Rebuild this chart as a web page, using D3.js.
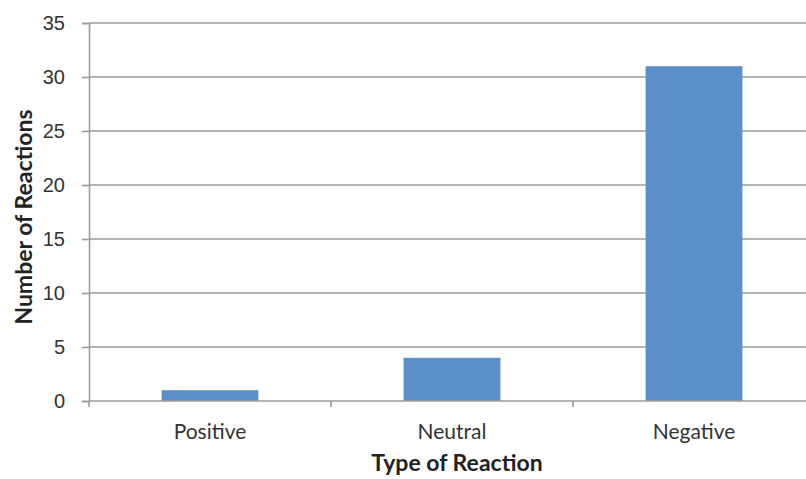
<!DOCTYPE html>
<html>
<head>
<meta charset="utf-8">
<script src="https://cdn.jsdelivr.net/npm/d3@7"></script>
<style>
  html, body { margin: 0; padding: 0; background: #fff; }
  svg { display: block; font-family: Lato, "Open Sans", sans-serif; }
</style>
</head>
<body>
<svg id="chart" width="806" height="479"></svg>
<script>
// Reaction counts by type
const categories = ["Positive", "Neutral", "Negative"];
const counts = [1, 4, 31];
const yTicks = [0, 5, 10, 15, 20, 25, 30, 35];

const svg = d3.select("#chart");
const margin = { left: 89, top: 23, bottom: 78 };
const plotW = 726;
const plotH = 479 - margin.top - margin.bottom;

const x = d3.scaleBand().domain(categories).range([margin.left, margin.left + plotW])
  .paddingInner(0.6).paddingOuter(0.3);
const y = d3.scaleLinear().domain([0, 35]).range([margin.top + plotH, margin.top]);

const gridColor = "#9b9b9b";
const labelColor = "#333";

// horizontal gridlines
svg.append("g").selectAll("line").data(yTicks.filter(d => d > 0)).join("line")
  .attr("x1", margin.left).attr("x2", margin.left + plotW)
  .attr("y1", d => y(d)).attr("y2", d => y(d))
  .attr("stroke", gridColor).attr("stroke-width", 1.6);

// bars
svg.append("g").selectAll("rect").data(categories).join("rect")
  .attr("x", d => x(d))
  .attr("width", x.bandwidth())
  .attr("y", (d, i) => y(counts[i]))
  .attr("height", (d, i) => y(0) - y(counts[i]))
  .attr("fill", "#5b8fc8");

// y axis
const yAxis = svg.append("g").attr("transform", `translate(${margin.left},0)`)
  .call(d3.axisLeft(y).tickValues(yTicks).tickSize(7).tickPadding(17));
yAxis.select(".domain").attr("stroke", gridColor).attr("stroke-width", 1.6);
yAxis.selectAll(".tick line").attr("stroke", gridColor).attr("stroke-width", 1.6);
yAxis.selectAll(".tick text").attr("font-size", 20).attr("fill", labelColor);

// x axis with tick marks at category boundaries
const xAxisG = svg.append("g").attr("transform", `translate(0,${y(0)})`);
xAxisG.append("line").attr("x1", margin.left).attr("x2", margin.left + plotW)
  .attr("stroke", gridColor).attr("stroke-width", 1.6);
const bounds = d3.range(categories.length + 1).map(i => margin.left + i * plotW / categories.length);
xAxisG.selectAll(".bt").data(bounds).join("line")
  .attr("x1", d => d).attr("x2", d => d).attr("y1", 0).attr("y2", 6)
  .attr("stroke", gridColor).attr("stroke-width", 1.6);
xAxisG.selectAll("text").data(categories).join("text")
  .attr("x", d => x(d) + x.bandwidth() / 2)
  .attr("y", 38)
  .attr("text-anchor", "middle")
  .attr("font-size", 21).attr("fill", labelColor)
  .text(d => d);

// axis titles
svg.append("text").attr("x", 457).attr("y", 471)
  .attr("text-anchor", "middle").attr("font-size", 23).attr("font-weight", "bold").attr("fill", "#222")
  .text("Type of Reaction");
svg.append("text").attr("transform", `translate(32,${217}) rotate(-90)`)
  .attr("text-anchor", "middle").attr("font-size", 23).attr("font-weight", "bold").attr("fill", "#222")
  .text("Number of Reactions");
</script>
</body>
</html>
